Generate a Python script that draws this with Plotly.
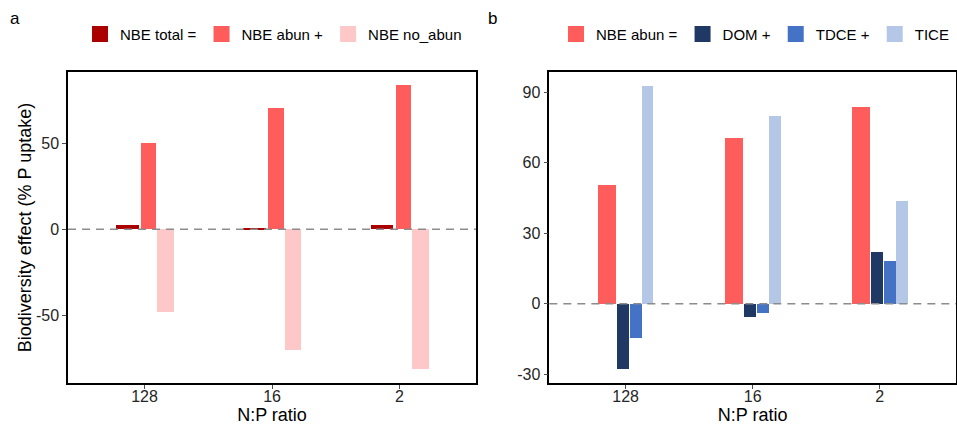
import plotly.graph_objects as go

# N:P ratio groups
ratios = ["128", "16", "2"]

# Panel a: net biodiversity effect partition
nbe_total = [2.5, 0.5, 2.5]
nbe_abun = [50.4, 70.5, 83.7]
nbe_no_abun = [-47.9, -70.0, -81.2]

# Panel b: abundance component partition
dom = [-27.7, -5.5, 22.0]
tdce = [-14.5, -3.8, 18.2]
tice = [92.6, 79.9, 43.7]

# y-axis tick values
ticks_a = [-50, 0, 50]
ticks_b = [-30, 0, 30, 60, 90]

pos = list(range(len(ratios)))

C_TOTAL = "#AA0000"
C_ABUN = "#FF5C5C"
C_NOABUN = "#FFC8C8"
C_DOM = "#1F3864"
C_TDCE = "#4472C4"
C_TICE = "#B4C7E7"

FONT = "Liberation Sans, Arial, sans-serif"
TXT = "#262626"

fig = go.Figure()

# (name, values, colour, left-edge offset, width, axes, legend)
series = [
    ("NBE total =", nbe_total, C_TOTAL, -0.227, 0.18, "x", "y", "legend"),
    ("NBE abun +", nbe_abun, C_ABUN, -0.029, 0.123, "x", "y", "legend"),
    ("NBE no_abun", nbe_no_abun, C_NOABUN, 0.100, 0.128, "x", "y", "legend"),
    ("NBE abun =", nbe_abun, C_ABUN, -0.217, 0.141, "x2", "y2", "legend2"),
    ("DOM +", dom, C_DOM, -0.068, 0.094, "x2", "y2", "legend2"),
    ("TDCE +", tdce, C_TDCE, 0.034, 0.094, "x2", "y2", "legend2"),
    ("TICE", tice, C_TICE, 0.128, 0.094, "x2", "y2", "legend2"),
]
for name, vals, col, off, w, xa, ya, lg in series:
    fig.add_trace(go.Bar(
        x=pos, y=vals, name=name, marker=dict(color=col, line=dict(width=0)),
        offset=off, width=w, xaxis=xa, yaxis=ya, showlegend=False,
    ))
    # square legend key for the series (larger than the default bar glyph)
    fig.add_trace(go.Scatter(
        x=[None], y=[None], mode="markers", name=name,
        marker=dict(symbol="square", size=16, color=col, line=dict(width=0)),
        xaxis=xa, yaxis=ya, legend=lg, hoverinfo="skip",
    ))

axis_common = dict(
    showline=True, linecolor="black", linewidth=1.5, mirror=True,
    ticks="outside", ticklen=4, tickcolor="#4D4D4D", tickwidth=1,
    showgrid=False, zeroline=False,
    tickfont=dict(family=FONT, size=16, color=TXT),
)
ydom = [0.103, 0.8314]
title_font = dict(size=18, family=FONT, color="black")
legend_font = dict(family=FONT, size=15, color="black")

fig.update_layout(
    width=957, height=427, margin=dict(l=0, r=0, t=0, b=0),
    paper_bgcolor="white", plot_bgcolor="white",
    barmode="overlay", bargap=0,
    font=dict(family=FONT, size=15, color="black"),
    xaxis=dict(axis_common, domain=[0.0711, 0.4974], range=[-0.6, 2.6],
               tickvals=pos, ticktext=ratios, ticklabelstandoff=-6,
               title=dict(text="N:P ratio", font=title_font, standoff=0)),
    yaxis=dict(axis_common, domain=ydom, range=[-89.4, 91.5],
               tickvals=ticks_a, ticktext=[str(v) for v in ticks_a],
               title=dict(text="Biodiversity effect (% P uptake)", font=title_font, standoff=0)),
    xaxis2=dict(axis_common, domain=[0.574, 0.999], range=[-0.6, 2.6], anchor="y2",
                tickvals=pos, ticktext=ratios, ticklabelstandoff=-6,
                title=dict(text="N:P ratio", font=title_font, standoff=0)),
    yaxis2=dict(axis_common, domain=ydom, range=[-33.7, 98.6], anchor="x2",
                tickvals=ticks_b, ticktext=[str(v) for v in ticks_b]),
    legend=dict(orientation="h", x=0.0836, y=0.92, xanchor="left", yanchor="middle",
                font=legend_font, bgcolor="rgba(0,0,0,0)"),
    legend2=dict(orientation="h", x=0.581, y=0.92, xanchor="left", yanchor="middle",
                 font=legend_font, bgcolor="rgba(0,0,0,0)"),
    annotations=[
        dict(text="a", x=0.008, y=0.957, xref="paper", yref="paper", showarrow=False,
             xanchor="left", yanchor="middle", font=dict(family=FONT, size=17, color="black")),
        dict(text="b", x=0.508, y=0.957, xref="paper", yref="paper", showarrow=False,
             xanchor="left", yanchor="middle", font=dict(family=FONT, size=17, color="black")),
    ],
)

# dashed zero reference lines
for xr, yr in (("x", "y"), ("x2", "y2")):
    fig.add_shape(type="line", x0=0, x1=1, y0=0, y1=0,
                  xref=f"{xr} domain", yref=yr,
                  line=dict(color="#8C8C8C", width=1.5, dash="8px,6px"))

fig.write_html("out.html")
